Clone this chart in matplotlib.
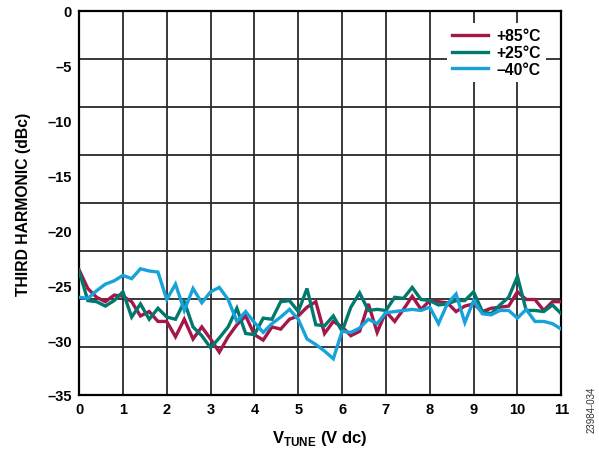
import numpy as np
import matplotlib.pyplot as plt

plt.rcParams["font.family"] = ["Liberation Sans", "DejaVu Sans"]
plt.rcParams["mathtext.fontset"] = "custom"
plt.rcParams["mathtext.rm"] = "Liberation Sans:bold"
plt.rcParams["mathtext.bf"] = "Liberation Sans:bold"

# tuning voltage, 0.2 V steps
v_tune = np.round(np.arange(0, 11.01, 0.2), 1)

# third harmonic (dBc) per temperature
h_85 = [-23.6, -25.3, -26.1, -26.5, -25.9, -26.0, -26.5, -27.8, -27.4, -28.3,
        -28.3, -29.7, -28.1, -29.9, -28.8, -29.9, -31.1, -29.7, -28.6, -27.8,
        -29.5, -30.0, -28.8, -29.0, -28.1, -27.8, -27.0, -26.5, -29.4, -28.3,
        -28.8, -29.6, -29.2, -26.7, -29.3, -27.4, -28.3, -27.2, -26.0, -27.2,
        -26.4, -26.5, -26.6, -27.4, -26.9, -26.7, -27.4, -27.1, -27.0, -26.9,
        -25.6, -26.3, -26.3, -27.3, -26.5, -26.5]
h_25 = [-23.7, -26.4, -26.5, -26.9, -26.4, -25.6, -27.9, -26.7, -28.1, -27.1,
        -27.9, -28.1, -26.5, -28.8, -29.6, -30.7, -29.8, -28.8, -27.1, -29.4,
        -29.5, -28.0, -28.1, -26.5, -26.4, -27.4, -25.3, -28.6, -28.7, -27.8,
        -29.2, -27.0, -25.7, -27.3, -27.2, -27.3, -26.1, -26.2, -25.2, -26.3,
        -26.4, -26.8, -26.7, -26.4, -26.4, -25.6, -27.4, -27.6, -26.8, -26.1,
        -24.2, -27.3, -27.3, -27.4, -26.8, -27.6]
h_m40 = [-26.1, -26.2, -25.5, -24.9, -24.6, -24.1, -24.4, -23.5, -23.7, -23.8,
         -26.3, -24.9, -27.3, -25.3, -26.6, -25.6, -25.2, -26.3, -28.3, -27.4,
         -28.4, -29.3, -28.5, -27.9, -27.2, -28.1, -29.9, -30.4, -31.0, -31.7,
         -29.2, -29.3, -28.9, -28.1, -28.5, -27.5, -27.4, -27.3, -27.2, -27.3,
         -27.0, -28.5, -26.7, -25.8, -28.4, -26.4, -27.6, -27.7, -27.3, -27.3,
         -28.0, -27.2, -28.3, -28.3, -28.5, -29.0]

series = [("+85°C", h_85, "#A3174A"),
          ("+25°C", h_25, "#007A6E"),
          ("\u201340°C", h_m40, "#17A3D9")]

y_ticks = [0, -5, -10, -15, -20, -25, -30, -35]
fs = 10.5

fig = plt.figure(figsize=(5.99, 4.52), dpi=100)
ax = fig.add_axes([0.132, 0.124, 0.805, 0.8496])

# grid: 11 columns, 8 rows (as in the original)
for x in range(1, 11):
    ax.axvline(x, color="#2a2a2a", lw=1.3, zorder=1)
for k in range(1, 8):
    ax.axhline(-35 * k / 8, color="#2a2a2a", lw=1.3, zorder=1)

for name, vals, col in series:
    ax.plot(v_tune, vals, color=col, lw=2.4, label=name, zorder=3,
            solid_joinstyle="miter")

ax.set_xlim(0, 11)
ax.set_ylim(-35, 0)
ax.set_xticks(range(0, 12))
ax.set_xticklabels([str(i) for i in range(0, 12)], fontweight="bold", fontsize=fs)
ax.set_yticks(y_ticks)
ax.set_yticklabels([str(t).replace("-", "\u2013") for t in y_ticks],
                   fontweight="bold", fontsize=fs)
ax.tick_params(length=0, pad=5)
for s in ax.spines.values():
    s.set_linewidth(1.6)
    s.set_color("black")

ax.set_ylabel("THIRD HARMONIC (dBc)", fontweight="bold", fontsize=fs + 0.8, labelpad=12)
ax.set_xlabel(r"V$_{\mathbf{TUNE}}$ (V dc)", fontweight="bold", fontsize=fs + 1.5, labelpad=9)

leg = ax.legend(loc="upper right", bbox_to_anchor=(0.985, 0.99), frameon=True,
                fancybox=False, edgecolor="none", framealpha=1,
                prop={"weight": "bold", "size": fs + 0.8}, handlelength=2.3,
                handletextpad=0.5, labelspacing=0.12, borderpad=0.35)
leg.set_zorder(5)

fig.text(0.988, 0.093, "23984-034", rotation=90, fontsize=7, ha="center",
         va="center", color="#333333")

fig.savefig("out.png", dpi=100)
